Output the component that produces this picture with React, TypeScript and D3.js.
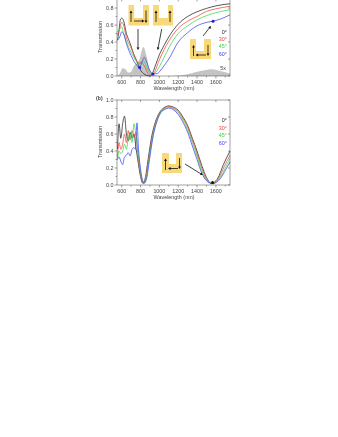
import React from "react";
import * as d3 from "d3";

type Pt = [number, number];
const angleLabels = ["0°", "30°", "45°", "60°"];
const colors = ["#222222", "#f0443c", "#35d84a", "#3a46f0"];
const xTicks = [600, 800, 1000, 1200, 1400, 1600];
const xMinor = [700, 900, 1100, 1300, 1500, 1700];
const yTicksTop = [0, 0.2, 0.4, 0.6, 0.8];
const yTicksBottom = [0, 0.2, 0.4, 0.6, 0.8, 1.0];
const yMinorTop = [0.1, 0.3, 0.5, 0.7];
const yMinorBottom = [0.1, 0.3, 0.5, 0.7, 0.9];

const topBlack: Pt[] = [[555,.42],[570,.52],[585,.66],[600,.68],[620,.65],[650,.5],[680,.41],[700,.35],[720,.28],[750,.2],[780,.12],[800,.07],[830,.03],[860,.01],[900,.0],[930,.04],[960,.13],[1000,.25],[1050,.36],[1100,.46],[1200,.61],[1300,.7],[1400,.756],[1500,.795],[1600,.825],[1750,.85]];
const topRed: Pt[] = [[555,.48],[575,.55],[600,.63],[620,.6],[650,.45],[700,.33],[750,.2],[780,.15],[810,.16],[840,.12],[880,.03],[910,.01],[940,.03],[1000,.19],[1050,.31],[1100,.41],[1200,.56],[1300,.645],[1400,.7],[1500,.76],[1600,.79],[1750,.82]];
const topGreen: Pt[] = [[555,.52],[580,.55],[600,.58],[620,.5],[650,.4],[700,.28],[750,.18],[780,.14],[810,.15],[830,.18],[860,.12],[890,.05],[930,.02],[960,.04],[1000,.11],[1050,.22],[1100,.33],[1200,.5],[1300,.59],[1400,.66],[1500,.71],[1600,.745],[1750,.78]];
const topBlue: Pt[] = [[555,.42],[580,.46],[600,.52],[620,.5],[650,.38],[700,.24],[750,.14],[790,.1],[820,.18],[840,.22],[860,.18],[900,.06],[940,.025],[980,.03],[1000,.05],[1050,.12],[1100,.2],[1200,.4],[1300,.51],[1400,.59],[1500,.63],[1570,.645],[1650,.67],[1750,.72]];
const topGray: Pt[] = [[550,0],[580,.03],[610,.09],[640,.08],[670,.04],[700,.05],[730,.12],[760,.15],[790,.2],[830,.34],[860,.25],[890,.1],[930,.02],[1000,0],[1100,0],[1200,.005],[1300,.02],[1400,.05],[1500,.07],[1550,.08],[1650,.06],[1750,.03]];

const botBlack: Pt[] = [[555,.42],[572,.72],[590,.55],[610,.72],[630,.81],[650,.6],[670,.52],[690,.62],[710,.55],[730,.6],[750,.45],[770,.3],[800,.1],[825,.02],[850,.08],[880,.3],[920,.58],[960,.75],[1000,.85],[1050,.91],[1100,.93],[1150,.915],[1200,.88],[1250,.8],[1300,.7],[1350,.55],[1400,.4],[1450,.23],[1500,.09],[1550,.02],[1580,.03],[1620,.08],[1680,.24],[1750,.4]];
const botRed: Pt[] = [[555,.33],[572,.5],[590,.42],[610,.48],[630,.6],[650,.5],[670,.64],[690,.53],[710,.64],[730,.56],[750,.62],[770,.38],[800,.12],[828,.02],[855,.08],[885,.3],[925,.58],[965,.75],[1005,.85],[1050,.9],[1100,.925],[1150,.905],[1200,.865],[1250,.785],[1300,.68],[1350,.53],[1400,.37],[1450,.2],[1500,.07],[1555,.02],[1590,.03],[1630,.08],[1690,.22],[1750,.35]];
const botGreen: Pt[] = [[555,.3],[572,.4],[590,.37],[610,.4],[630,.48],[650,.42],[670,.55],[690,.6],[710,.5],[730,.72],[750,.6],[770,.42],[800,.15],[832,.02],[860,.08],[890,.3],[930,.58],[970,.75],[1010,.85],[1055,.895],[1100,.915],[1150,.895],[1200,.85],[1250,.765],[1300,.65],[1350,.5],[1400,.34],[1450,.17],[1500,.06],[1560,.02],[1595,.03],[1640,.08],[1700,.2],[1750,.31]];
const botBlue: Pt[] = [[555,.3],[572,.33],[590,.28],[610,.24],[630,.33],[650,.35],[670,.38],[690,.34],[710,.42],[730,.44],[745,.42],[762,.73],[780,.4],[805,.15],[838,.02],[865,.08],[895,.3],[935,.58],[975,.75],[1015,.85],[1060,.89],[1100,.905],[1150,.885],[1200,.83],[1250,.74],[1300,.62],[1350,.46],[1400,.3],[1450,.14],[1500,.05],[1565,.015],[1605,.03],[1650,.08],[1710,.19],[1750,.27]];

const topSeries = [topBlack, topRed, topGreen, topBlue];
const botSeries = [botBlack, botRed, botGreen, botBlue];
const topMarkers: Pt[] = [[790, .1], [930, .025], [1570, .645]];
const botMarkers: Pt[] = [[1565, .03]];

const x = d3.scaleLinear().domain([550, 1750]).range([117, 230]);
const yTop = d3.scaleLinear().domain([0, 0.9]).range([76, -0.5]);
const yBot = d3.scaleLinear().domain([0, 1]).range([185, 100]);

const FONT = "Liberation Sans, Arial, sans-serif";
const INK = "#444";

function Panel({ y, ticks, minor, labelY }: { y: d3.ScaleLinear<number, number>; ticks: number[]; minor: number[]; labelY: number }) {
  const [b, t] = y.range();
  return (
    <g fontFamily={FONT} fontSize={5.4} fill={INK}>
      <rect x={117} y={t} width={113} height={b - t} fill="none" stroke={INK} strokeWidth={0.5} />
      {xTicks.map((v) => (
        <g key={v}>
          <line x1={x(v)} x2={x(v)} y1={b} y2={b + 2.5} stroke={INK} strokeWidth={0.5} />
          <line x1={x(v)} x2={x(v)} y1={t} y2={t + 2} stroke={INK} strokeWidth={0.5} />
          <text x={x(v)} y={b + 7.5} textAnchor="middle">{v}</text>
        </g>
      ))}
      {xMinor.map((v) => (
        <line key={v} x1={x(v)} x2={x(v)} y1={b} y2={b + 1.5} stroke={INK} strokeWidth={0.5} />
      ))}
      {ticks.map((v) => (
        <g key={v}>
          <line x1={114.5} x2={117} y1={y(v)} y2={y(v)} stroke={INK} strokeWidth={0.5} />
          <line x1={228} x2={230} y1={y(v)} y2={y(v)} stroke={INK} strokeWidth={0.5} />
          <text x={113.5} y={y(v) + 2} textAnchor="end">{v.toFixed(1)}</text>
        </g>
      ))}
      {minor.map((v) => (
        <line key={v} x1={115.5} x2={117} y1={y(v)} y2={y(v)} stroke={INK} strokeWidth={0.5} />
      ))}
      <text x={174} y={b + 13.5} textAnchor="middle">Wavelength (nm)</text>
      <text transform={`translate(102 ${labelY}) rotate(-90)`} textAnchor="middle">Transmission</text>
    </g>
  );
}

function Arrow({ a, b, w = 0.8, h = 2.6 }: { a: Pt; b: Pt; w?: number; h?: number }) {
  const ang = Math.atan2(b[1] - a[1], b[0] - a[0]);
  const p = (d: number, o: number): string =>
    `${b[0] - d * Math.cos(ang) - o * Math.sin(ang)},${b[1] - d * Math.sin(ang) + o * Math.cos(ang)}`;
  return (
    <g>
      <line x1={a[0]} y1={a[1]} x2={b[0] - h * 0.7 * Math.cos(ang)} y2={b[1] - h * 0.7 * Math.sin(ang)} stroke="#111" strokeWidth={w} />
      <polygon points={`${b[0]},${b[1]} ${p(h, h * 0.55)} ${p(h, -h * 0.55)}`} fill="#111" />
    </g>
  );
}

function Block({ x0, y0, w, h, nl, nr, nd }: { x0: number; y0: number; w: number; h: number; nl: number; nr: number; nd: number }) {
  const path = `M${x0},${y0}H${x0 + nl}V${y0 + nd}H${x0 + nr}V${y0}H${x0 + w}V${y0 + h}H${x0}Z`;
  return <path d={path} fill="#f8d878" />;
}

export default function App() {
  const line = (y: d3.ScaleLinear<number, number>) =>
    d3.line<Pt>().x((d) => x(d[0])).y((d) => y(d[1])).curve(d3.curveMonotoneX);
  const grayArea = d3.area<Pt>().x((d) => x(d[0])).y0(yTop(0)).y1((d) => yTop(d[1])).curve(d3.curveMonotoneX);
  return (
    <svg width={338} height={437} style={{ position: "absolute", left: 0, top: 0, background: "#fff", filter: "blur(0.3px)" }}>
      <path d={grayArea(topGray) ?? ""} fill="#c4c4c4" />
      {topSeries.map((s, i) => (
        <path key={i} d={line(yTop)(s) ?? ""} fill="none" stroke={colors[i]} strokeWidth={0.75} />
      ))}
      {botSeries.map((s, i) => (
        <path key={i} d={line(yBot)(s) ?? ""} fill="none" stroke={colors[i]} strokeWidth={0.75} />
      ))}
      <Panel y={yTop} ticks={yTicksTop} minor={yMinorTop} labelY={37} />
      <Panel y={yBot} ticks={yTicksBottom} minor={yMinorBottom} labelY={142} />

      {topMarkers.map((m, i) => (
        <circle key={i} cx={x(m[0])} cy={yTop(m[1])} r={1.5} fill="#1a22e0" />
      ))}
      {botMarkers.map((m, i) => (
        <circle key={i} cx={x(m[0])} cy={yBot(m[1])} r={1.5} fill="#111" />
      ))}

      <Block x0={128.5} y0={5} w={20.5} h={20.5} nl={5.5} nr={14.5} nd={13} />
      <Arrow a={[131, 22]} b={[131, 10.5]} />
      <Arrow a={[134, 21]} b={[144.5, 21]} />
      <Arrow a={[146, 10.5]} b={[146, 23]} />
      <Block x0={153} y0={5} w={20} h={20.5} nl={6} nr={15} nd={13} />
      <Arrow a={[156, 22]} b={[156, 10.5]} />
      <Arrow a={[170, 22]} b={[170, 10.5]} />
      <Block x0={190} y0={39} w={21} h={20} nl={6} nr={14} nd={12} />
      <Arrow a={[193.5, 56]} b={[193.5, 45]} />
      <Arrow a={[206, 55]} b={[195.5, 55]} />
      <Arrow a={[208, 45]} b={[208, 56]} />
      <Block x0={162} y0={153} w={20} h={20} nl={7} nr={14} nd={11} />
      <Arrow a={[165.5, 170]} b={[165.5, 158.5]} />
      <Arrow a={[178, 168.5]} b={[168, 168.5]} />
      <Arrow a={[179.5, 158]} b={[179.5, 169]} />

      <Arrow a={[138, 29]} b={[138, 50]} />
      <Arrow a={[161.7, 29]} b={[157.7, 50]} />
      <Arrow a={[203, 36]} b={[211, 26]} />
      <Arrow a={[185, 164]} b={[202.7, 175]} />

      <g fontFamily={FONT} fontSize={5.4} textAnchor="end">
        {angleLabels.map((l, i) => (
          <text key={l} x={227} y={34 + i * 7.2} fill={colors[i]}>{l}</text>
        ))}
        <text x={226} y={70} fill={INK}>5x</text>
        {angleLabels.map((l, i) => (
          <text key={l + "b"} x={227} y={122 + i * 7.6} fill={colors[i]}>{l}</text>
        ))}
      </g>
      <text x={96} y={100} fontFamily={FONT} fontSize={5.2} fontWeight="bold" fill={INK}>(b)</text>
    </svg>
  );
}
